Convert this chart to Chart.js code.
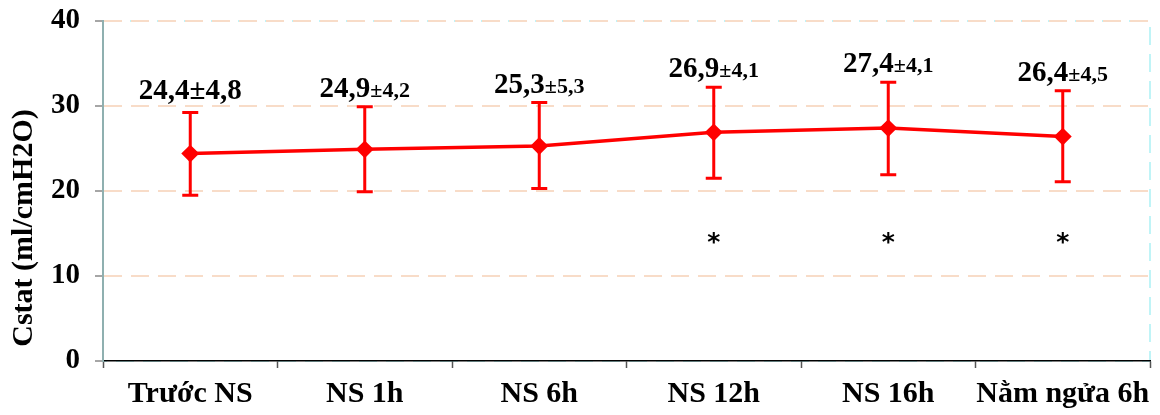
<!DOCTYPE html>
<html>
<head>
<meta charset="utf-8">
<script src="https://cdn.jsdelivr.net/npm/chart.js@4"></script>
<style>
  body { margin: 0; background: #fff; }
  #wrap { width: 1160px; height: 415px; }
</style>
</head>
<body>
<div id="wrap"><canvas id="cstat"></canvas></div>
<script>
const categories = ['Trước NS', 'NS 1h', 'NS 6h', 'NS 12h', 'NS 16h', 'Nằm ngửa 6h'];
const means = [24.4, 24.9, 25.3, 26.9, 27.4, 26.4];
const errUpper = [29.25, 29.9, 30.4, 32.2, 32.8, 31.8];
const errLower = [19.5, 19.9, 20.3, 21.5, 21.9, 21.1];
const labelMain = ['24,4±4,8', '24,9', '25,3', '26,9', '27,4', '26,4'];
const labelSd = ['', '±4,2', '±5,3', '±4,1', '±4,1', '±4,5'];
const signif = ['', '', '', '*', '*', '*'];
const yTicks = [0, 10, 20, 30, 40];
const yTitle = 'Cstat (ml/cmH2O)';

const SERIF = '"Liberation Serif", "Times New Roman", serif';
const RED = '#ff0000';

// frame, error bars, value labels, significance marks, axis title
const extras = {
    id: 'extras',
    beforeDraw(chart) {
        const {ctx, chartArea: a} = chart;
        ctx.save();
        ctx.strokeStyle = '#c0f4f7';
        ctx.lineWidth = 2;
        ctx.setLineDash([18, 9]);
        ctx.strokeRect(a.left, a.top, a.right - a.left, a.bottom - a.top);
        ctx.restore();
    },
    afterDatasetsDraw(chart) {
        const {ctx, scales: {x, y}} = chart;
        ctx.save();
        ctx.strokeStyle = RED;
        ctx.lineWidth = 3;
        categories.forEach((c, i) => {
            const px = x.getPixelForValue(i);
            const top = y.getPixelForValue(errUpper[i]);
            const bot = y.getPixelForValue(errLower[i]);
            ctx.beginPath();
            ctx.moveTo(px, top); ctx.lineTo(px, bot);
            ctx.moveTo(px - 8, top); ctx.lineTo(px + 8, top);
            ctx.moveTo(px - 8, bot); ctx.lineTo(px + 8, bot);
            ctx.stroke();
        });

        ctx.fillStyle = '#000';
        ctx.textBaseline = 'alphabetic';
        ctx.textAlign = 'left';
        const big = 'bold 29px ' + SERIF;
        const small = 'bold 22px ' + SERIF;
        categories.forEach((c, i) => {
            const px = x.getPixelForValue(i);
            const py = y.getPixelForValue(errUpper[i]) - (i === 0 ? 13 : 10);
            ctx.font = big;
            const w1 = ctx.measureText(labelMain[i]).width;
            ctx.font = small;
            const w2 = ctx.measureText(labelSd[i]).width;
            const sx = px - (w1 + w2) / 2;
            ctx.font = big;
            ctx.fillText(labelMain[i], sx, py);
            ctx.font = small;
            ctx.fillText(labelSd[i], sx + w1, py);
        });

        ctx.font = 'bold 25px "DejaVu Sans", sans-serif';
        ctx.textAlign = 'center';
        ctx.textBaseline = 'middle';
        signif.forEach((s, i) => {
            if (!s) return;
            ctx.fillText(s, x.getPixelForValue(i), y.getPixelForValue(14.3) + 4);
        });

        // y axis title
        ctx.translate(24, 228);
        ctx.rotate(-Math.PI / 2);
        ctx.font = 'bold 30px ' + SERIF;
        ctx.fillText(yTitle, 0, 0);
        ctx.restore();
    }
};

const ctx = document.getElementById('cstat').getContext('2d');
const chart = new Chart(ctx, {
    type: 'line',
    data: {
        labels: categories,
        datasets: [{
            label: 'Cstat',
            data: means,
            borderColor: RED,
            backgroundColor: RED,
            borderWidth: 3.5,
            pointStyle: 'rectRot',
            pointRadius: 6.5,
            pointHoverRadius: 6.5,
            tension: 0
        }]
    },
    options: {
        responsive: true,
        maintainAspectRatio: false,
        animation: false,
        layout: { padding: { top: 21, right: 8, left: 0, bottom: 0 } },
        plugins: {
            legend: { display: false },
            tooltip: { enabled: false }
        },
        scales: {
            x: {
                offset: true,
                afterFit: s => {
                    s.height = 54;
                    s.paddingLeft = 0;
                    s.paddingRight = 0;
                },
                grid: {
                    offset: true,
                    drawOnChartArea: false,
                    tickLength: 7,
                    tickColor: '#555',
                    tickWidth: 1.5
                },
                border: { color: '#000', width: 1.5 },
                ticks: {
                    color: '#000',
                    padding: 8,
                    maxRotation: 0,
                    autoSkip: false,
                    font: { family: SERIF, size: 30, weight: 'bold' }
                }
            },
            y: {
                min: 0,
                max: 40,
                afterFit: s => {
                    s.width = 103;
                    s.paddingTop = 0;
                    s.paddingBottom = 0;
                },
                afterBuildTicks: s => { s.ticks = yTicks.map(v => ({ value: v })); },
                grid: {
                    color: c => c.tick && c.tick.value === 0 ? 'rgba(0,0,0,0)' : '#f8dcc8',
                    lineWidth: 2,
                    tickLength: 8,
                    tickColor: '#888',
                    tickWidth: 1.5
                },
                border: { color: '#8fb0b0', width: 2, dash: [18, 9] },
                ticks: {
                    color: '#000',
                    padding: 15,
                    font: { family: SERIF, size: 29, weight: 'bold' }
                }
            }
        }
    },
    plugins: [extras]
});
</script>
</body>
</html>
